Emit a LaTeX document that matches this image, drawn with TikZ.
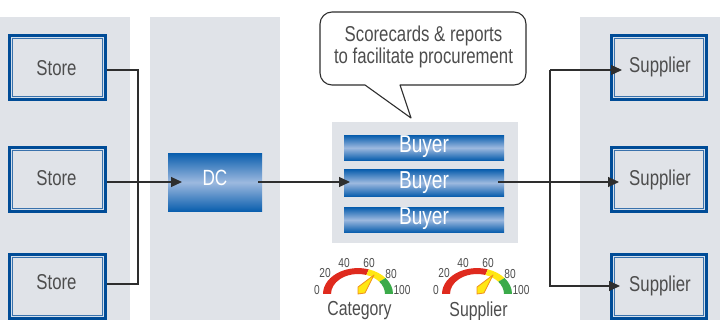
\documentclass[tikz,border=0pt]{standalone}
\usepackage{fontspec}
\setmainfont[FakeStretch=0.78]{Liberation Sans}
\usetikzlibrary{arrows.meta}
\definecolor{panel}{HTML}{E0E3E8}
\definecolor{gapc}{HTML}{D3DFEC}
\definecolor{dblue}{HTML}{004C97}
\definecolor{mblue}{HTML}{3A72AC}
\definecolor{gtop}{HTML}{0B5FAE}
\definecolor{gmid}{HTML}{9DB9DF}
\definecolor{ink}{HTML}{2E2E2E}
\definecolor{txt}{HTML}{4D4D4D}
\definecolor{gred}{HTML}{DF2A1E}
\definecolor{gyel}{HTML}{FFE713}
\definecolor{ggrn}{HTML}{3BAA4A}
\definecolor{gorg}{HTML}{F0901E}
\tikzset{
  x=1pt,y=-1pt,
  panelbox/.style={fill=panel,draw=none},
  dbl/.style={draw=dblue,line width=2.6pt,fill=gapc,inner sep=0pt,anchor=center},
  inring/.style={draw=mblue,line width=1pt,fill=panel},
  boxtext/.style={text=txt,font=\fontsize{21.5}{21.5}\selectfont,inner sep=0pt},
  gradbox/.style={draw=none,top color=gtop,bottom color=gtop,middle color=gmid,inner sep=0pt,minimum width=160pt},
  whitetext/.style={text=white,inner sep=0pt,font=\fontsize{24.5}{24.5}\selectfont},
  wire/.style={draw=ink,line width=1.1pt},
  arr/.style={wire,-{Triangle[length=11pt,width=10pt]}},
  glab/.style={text=txt,font=\fontsize{13}{13}\selectfont,inner sep=0pt},
  gname/.style={text=txt,font=\fontsize{20.3}{20.3}\selectfont,inner sep=0pt},
  needle/.style={draw=gorg,fill=gyel,line width=0.8pt,line join=round},
}
\newcommand{\dblbox}[5]{% name x1 y1 x2 y2
  \node[dbl,minimum width=#4-#2-2.6pt,minimum height=#5-#3-2.6pt] (#1) at ({(#2+#4)/2},{(#3+#5)/2}) {};
  \draw[inring] ({#2+4.6},{#3+4.6}) rectangle ({#4-4.6},{#5-4.6});
}
\newcommand{\gauge}[1]{% cx
  \begin{scope}[shift={(#1,294)},xscale=1,yscale=-0.74]
    \fill[gred] (-35,0) arc[start angle=180,end angle=72,radius=35] -- (72:27) arc[start angle=72,end angle=180,radius=27] -- cycle;
    \fill[gyel] (72:35) arc[start angle=72,end angle=38,radius=35] -- (38:27) arc[start angle=38,end angle=72,radius=27] -- cycle;
    \fill[ggrn] (38:35) arc[start angle=38,end angle=0,radius=35] -- (27,0) arc[start angle=0,end angle=38,radius=27] -- cycle;
  \end{scope}
}
\begin{document}
\begin{tikzpicture}
\useasboundingbox (0,0) rectangle (720,320);
\fill[panelbox] (0,17) rectangle (130,320);
\fill[panelbox] (150,17) rectangle (280,320);
\fill[panelbox] (580,17) rectangle (720,320);
\fill[panelbox] (332,122) rectangle (518,243);

\dblbox{s1}{8}{34}{107}{101}
\dblbox{s2}{8}{146}{107}{213}
\dblbox{s3}{8}{253}{107}{320}
\dblbox{p1}{610}{34}{708}{101}
\dblbox{p2}{610}{146}{708}{213}
\dblbox{p3}{610}{253}{708}{320}
\node[boxtext] (st1) at (56.5,68.5) {Store};
\node[boxtext] (st2) at (56.5,178.5) {Store};
\node[boxtext] (st3) at (56.5,282) {Store};

\node[gradbox,minimum width=94pt,minimum height=57.5pt] (dc) at (215,182.3) {};
\node[gradbox,minimum height=24.5pt] (b1) at (424,147.8) {};
\node[gradbox,minimum height=26.5pt] (b2) at (424,182.8) {};
\node[gradbox,minimum height=24.5pt] (b3) at (424,219.8) {};
\node[whitetext,font=\fontsize{22}{22}\selectfont] (dct) at (215,178) {DC};
\node[whitetext] (b1t) at (424,147) {Buyer};
\node[whitetext] (b2t) at (424,183) {Buyer};
\node[whitetext] (b3t) at (424,219) {Buyer};

% callout
\draw[draw=ink,line width=1.1pt,fill=white,line join=round]
  (332,12) -- (514,12) arc[start angle=-90,end angle=0,radius=12] -- (526,73)
  arc[start angle=0,end angle=90,radius=12] -- (400,85) -- (411,118) -- (365,85) -- (332,85)
  arc[start angle=90,end angle=180,radius=12] -- (320,24) arc[start angle=180,end angle=270,radius=12] -- cycle;
\node[text=txt,align=center,font=\fontsize{21.5}{22}\selectfont,inner sep=0pt] (note) at (423.5,46.5) {Scorecards \& reports\\to facilitate procurement};

% connectors
\coordinate (j1) at (138,70);
\coordinate (j3) at (138,284);
\coordinate (t2) at (182,182);
\coordinate (d1) at (258,182);
\coordinate (t3) at (350,182);
\coordinate (o1) at (498,182);
\coordinate (k1) at (550,70);
\coordinate (k3) at (550,286);
\coordinate (u1) at (622,70);
\coordinate (u2) at (619,182);
\coordinate (u3) at (620,286);
\coordinate (sa) at (107,70);
\coordinate (sb) at (107,182);
\coordinate (sc) at (107,284);
\draw[wire] (sa) -- (j1) -- (j3) -- (sc);
\draw[arr] (sb) -- (t2);
\draw[arr] (d1) -- (t3);
\draw[arr] (o1) -- (u2);
\draw[arr] (k1) -- (u1);
\draw[arr] (k1) -- (k3) -- (u3);

% supplier labels above arrows
\node[boxtext] (pt1) at (660,67) {Supplier};
\node[boxtext] (pt2) at (660,180) {Supplier};
\node[boxtext] (pt3) at (660,286) {Supplier};

% gauges
\gauge{358}
\gauge{477}
\foreach \c/\lab in {358/Category,477/Supplier}{
  \draw[needle] (\c+16,275) -- (\c,287) -- (\c,294) -- (\c+7,293) -- cycle;
  \node[glab] at (\c-41,290) {0};
  \node[glab] at (\c-33,273) {20};
  \node[glab] at (\c-14,263) {40};
  \node[glab] at (\c+11,263) {60};
  \node[glab] at (\c+33,274) {80};
  \node[glab] at (\c+44,290) {100};
  \node[gname] at (\c+1.5,311) {\lab};
}
\end{tikzpicture}
\end{document}
